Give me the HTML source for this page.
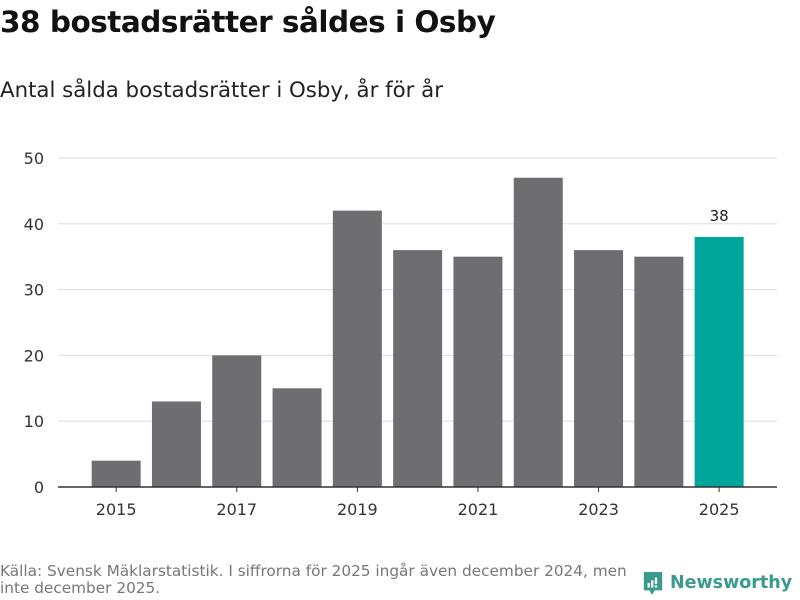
<!DOCTYPE html>
<html><head><meta charset="utf-8"><style>
body{margin:0;width:800px;height:600px;background:#fff;font-family:"DejaVu Sans","Liberation Sans",sans-serif;overflow:hidden;position:relative}
#title{position:absolute;left:0;top:5px;font-size:29.5px;font-weight:bold;color:#111;letter-spacing:-0.5px}
#sub{position:absolute;left:0;top:78px;font-size:21.3px;color:#222}
#src{position:absolute;left:0;top:563px;font-size:15.3px;color:#777;line-height:17px;width:640px}
#logo{position:absolute;left:642px;top:569px;display:flex;align-items:center;gap:6px;color:#3a9a8e;font-size:17.5px;font-weight:600}
</style></head><body>
<div id="title">38 bostadsrätter såldes i Osby</div>
<div id="sub">Antal sålda bostadsrätter i Osby, år för år</div>
<svg id="chart" width="800" height="600" style="position:absolute;left:0;top:0"></svg>
<div id="src">Källa: Svensk Mäklarstatistik. I siffrorna för 2025 ingår även december 2024, men inte december 2025.</div>
<div id="logo"><svg width="22" height="28" viewBox="0 0 24 28"><path d="M2 2h20v20H14l-3 5-3-5H2z" fill="#3a9a8e"/><rect x="6" y="14" width="2.5" height="5" fill="#fff"/><rect x="10" y="11" width="2.5" height="8" fill="#fff"/><rect x="14" y="8" width="2.5" height="7" fill="#fff"/><rect x="14" y="16.5" width="2.5" height="2.5" fill="#fff"/></svg><span>Newsworthy</span></div>
<script>
const years=[2015,2016,2017,2018,2019,2020,2021,2022,2023,2024,2025];
const values=[4,13,20,15,42,36,35,47,36,35,38];
const yTicks=[0,10,20,30,40,50];
const xLabels=[2015,2017,2019,2021,2023,2025];
const NS="http://www.w3.org/2000/svg";
const svg=document.getElementById('chart');
const y0=487,y50=158,x0=86,step=60.3,bw=49;
const yS=v=>y0-(y0-y50)*v/50;
const xS=i=>x0+i*step+step/2;
function mk(t,a){const e=document.createElementNS(NS,t);for(const k in a)e.setAttribute(k,a[k]);svg.appendChild(e);return e;}
yTicks.forEach(v=>{
  if(v>0){const l=mk('line',{x1:58,x2:777,y1:yS(v),y2:yS(v),stroke:'#ddd','stroke-width':1});
  
  }
  const t=mk('text',{x:44,y:yS(v)+6,'text-anchor':'end','font-size':16,fill:'#333'});t.textContent=v;
  
  
});
values.forEach((v,i)=>{
  const last=i===values.length-1;
  const r=mk('rect',{x:xS(i)-bw/2,y:yS(v),width:bw,height:y0-yS(v),fill:last?'#00a59b':'#6e6d72'});
  
  
  if(last){const t=mk('text',{x:xS(i),y:yS(v)-16,'text-anchor':'middle','font-size':15,fill:'#222'});t.textContent=v;
  
  }
});
const ax=mk('line',{x1:58,x2:777,y1:y0,y2:y0,stroke:'#333','stroke-width':1.5});


xLabels.forEach(yr=>{
  const i=years.indexOf(yr);
  const tk=mk('line',{x1:xS(i),x2:xS(i),y1:y0,y2:y0+5,stroke:'#333'});
  
  
  const t=mk('text',{x:xS(i),y:y0+28,'text-anchor':'middle','font-size':16,fill:'#333'});t.textContent=yr;
  
  
});
</script>
</body></html>
